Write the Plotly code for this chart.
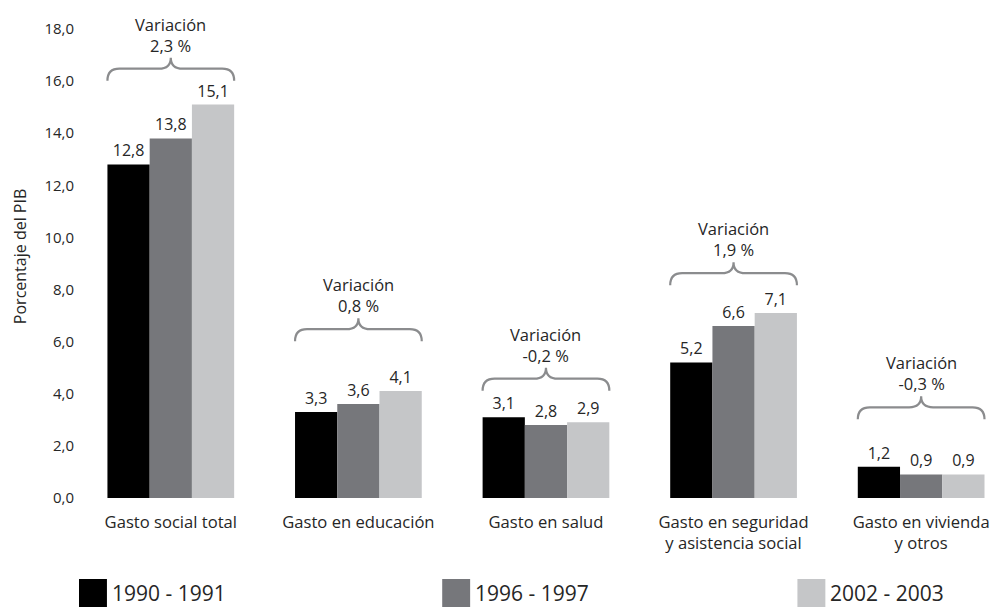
import plotly.graph_objects as go

# ---- data ----
categories = ["Gasto social total", "Gasto en educación", "Gasto en salud",
              "Gasto en seguridad<br>y asistencia social", "Gasto en vivienda<br>y otros"]
series_names = ["1990 - 1991", "1996 - 1997", "2002 - 2003"]
v_1990 = [12.8, 3.3, 3.1, 5.2, 1.2]
v_1996 = [13.8, 3.6, 2.8, 6.6, 0.9]
v_2002 = [15.1, 4.1, 2.9, 7.1, 0.9]
variacion = ["2,3", "0,8", "-0,2", "1,9", "-0,3"]
y_ticks = [0, 2, 4, 6, 8, 10, 12, 14, 16, 18]

# ---- style / layout ----
colors = ["#000000", "#76777b", "#c5c6c8"]
brace_peak = [16.9, 6.9, 5.0, 9.05, 3.9]   # y (data units) of brace tip
FONT = "Open Sans"
TXT = "#262626"

W, H = 992, 607
ML, MR, MT = 80, 2, 16
PLOT_BOTTOM = 507
MB = H - PLOT_BOTTOM
x0px, xstep = 171, 188
xr = [(ML - x0px) / xstep, (W - MR - x0px) / xstep]
yr = [-0.35, 18.5]
plot_w = W - ML - MR
plot_h = H - MT - MB

def px_x(px):  # page pixel -> paper
    return (px - ML) / plot_w

def px_y(py):
    return (H - MB - py) / plot_h

xs = list(range(len(categories)))
fig = go.Figure()
for name, vals, c in zip(series_names, [v_1990, v_1996, v_2002], colors):
    fig.add_trace(go.Bar(
        x=xs, y=vals, name=name, marker=dict(color=c, line=dict(width=0)),
        texttemplate="%{y:.1f}", textposition="outside",
        textfont=dict(family=FONT, size=16, color=TXT), cliponaxis=False,
        showlegend=False, hoverinfo="skip",
    ))

bw = 127 / xstep
ppu = plot_h / (yr[1] - yr[0])  # pixels per data unit
for i, (peak, var) in enumerate(zip(brace_peak, variacion)):
    xl, xrr = i - bw / 2, i + bw / 2
    xc = i
    yh = peak - 11 / ppu
    ye = yh - 12 / ppu
    r = 12 / xstep
    path = (f"M {xl},{ye} Q {xl},{yh} {xl + r},{yh} L {xc - r},{yh} "
            f"Q {xc},{yh} {xc},{peak} Q {xc},{yh} {xc + r},{yh} "
            f"L {xrr - r},{yh} Q {xrr},{yh} {xrr},{ye}")
    fig.add_shape(type="path", path=path, xref="x", yref="y",
                  line=dict(color="#8b8c8e", width=2.2))
    fig.add_annotation(x=xc, y=peak, xref="x", yref="y", yanchor="middle",
                       xanchor="center", yshift=23, showarrow=False,
                       text=f"Variación<br>{var} %",
                       font=dict(family=FONT, size=16.5, color=TXT))

# legend drawn manually
leg_x = [79, 443, 799]
for name, c, lx in zip(series_names, colors, leg_x):
    fig.add_shape(type="rect", xref="paper", yref="paper",
                  x0=px_x(lx), x1=px_x(lx + 28), y0=px_y(608), y1=px_y(579),
                  fillcolor=c, line=dict(width=0))
    fig.add_annotation(xref="paper", yref="paper", x=px_x(lx + 31), y=px_y(593),
                       xanchor="left", yanchor="middle", showarrow=False,
                       text=name, font=dict(family=FONT, size=21, color=TXT))

fig.add_annotation(xref="paper", yref="paper", x=px_x(20), y=px_y(257),
                   xanchor="center", yanchor="middle",
                   textangle=-90, showarrow=False, text="Porcentaje del PIB",
                   font=dict(family=FONT, size=16, color=TXT))

fig.update_layout(
    width=W, height=H, margin=dict(l=ML, r=MR, t=MT, b=MB),
    paper_bgcolor="white", plot_bgcolor="white",
    barmode="group", bargap=1 - bw, bargroupgap=0,
    separators=",.",
    hovermode=False,
    xaxis=dict(range=xr, tickmode="array", tickvals=xs, ticktext=categories,
               showgrid=False, zeroline=False, showline=False, ticks="",
               ticklabelstandoff=3,
               tickfont=dict(family=FONT, size=16.6, color=TXT)),
    yaxis=dict(range=yr, tickmode="array", tickvals=y_ticks, tickformat=".1f",
               showgrid=False, zeroline=False, showline=False, ticks="",
               ticklabelstandoff=5,
               tickfont=dict(family=FONT, size=15, color=TXT)),
)

fig.write_html("out.html", config={"displayModeBar": False},
               post_script="document.body.style.margin='0';"
                           "document.body.style.overflow='hidden';")
